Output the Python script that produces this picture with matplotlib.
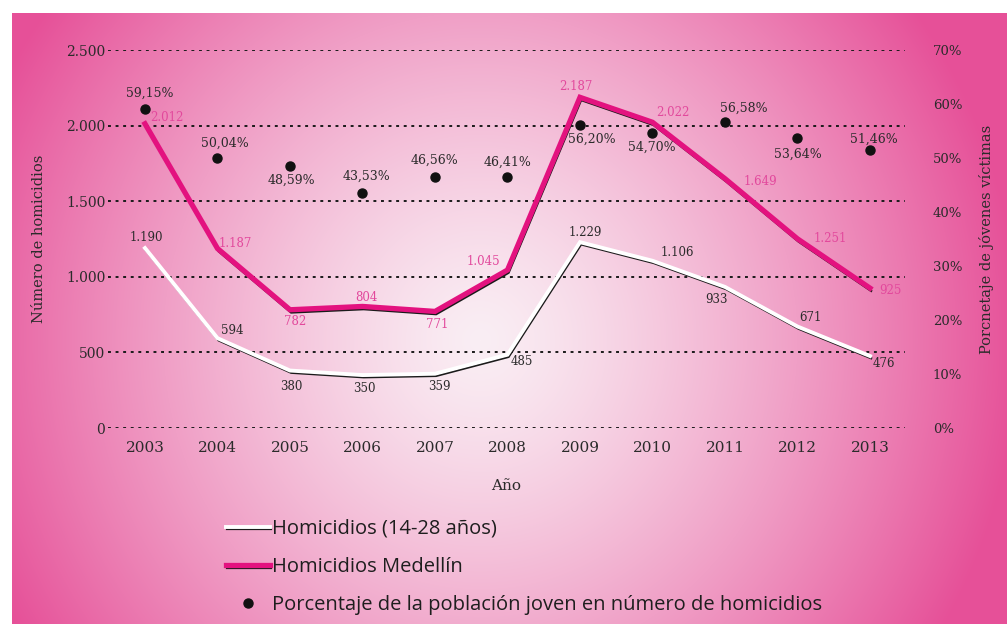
import numpy as np
import matplotlib
matplotlib.use("Agg")
import matplotlib.pyplot as plt
import matplotlib.patheffects as pe
from matplotlib.ticker import FuncFormatter

# datos
years = [2003, 2004, 2005, 2006, 2007, 2008, 2009, 2010, 2011, 2012, 2013]
medellin = [2012, 1187, 782, 804, 771, 1045, 2187, 2022, 1649, 1251, 925]
jovenes = [1190, 594, 380, 350, 359, 485, 1229, 1106, 933, 671, 476]
porcentaje = [59.15, 50.04, 48.59, 43.53, 46.56, 46.41, 56.20, 54.70, 56.58, 53.64, 51.46]
yticks_left = [0, 500, 1000, 1500, 2000, 2500]
yticks_right = [0, 10, 20, 30, 40, 50, 60, 70]

# desplazamientos de las etiquetas (pixeles)
off_med = [(22, 6), (18, 5), (5, -12), (4, 9), (2, -13), (-24, 8), (-4, 11), (20, 10), (35, -3), (33, 0), (20, -2)]
off_jov = [(1, 11), (15, 8), (1, -16), (2, -13), (4, -13), (14, -7), (5, 10), (25, 8), (-9, -13), (13, 9), (14, -7)]
off_pct = [(5, 15), (7, 15), (1, -15), (4, 17), (0, 16), (0, 15), (12, -15), (-1, -15), (19, 14), (0, -16), (4, 11)]

W, H = 1007, 624
fig = plt.figure(figsize=(W / 100, H / 100), dpi=100)

# fondo degradado
yy, xx = np.mgrid[0:H, 0:W]
r = np.sqrt(((xx - 480) / 540.0) ** 2 + ((yy - 340) / 560.0) ** 2)
t = np.clip(r, 0, 1) ** 1.3
inner = np.array([250, 238, 244]) / 255
outer = np.array([230, 80, 152]) / 255
img = inner[None, None, :] * (1 - t[..., None]) + outer[None, None, :] * t[..., None]
img[:13, :, :] = 1.0
img[:, :12, :] = 1.0
bg = fig.add_axes([0, 0, 1, 1], zorder=-1)
bg.imshow(img, aspect="auto", interpolation="bilinear")
bg.axis("off")

txt = "#2b2b2b"
mag = "#e3127f"
mag_txt = "#e2489c"
serif = "DejaVu Serif"

x0, x1 = 108, 905
ax = fig.add_axes([x0 / W, 1 - 428 / H, (x1 - x0) / W, 378 / H])
ax.patch.set_alpha(0)
ax.set_xlim(2003 - (145 - x0) / 72.5, 2013 + (x1 - 870) / 72.5)
ax.set_ylim(0, 2500)
for s in ax.spines.values():
    s.set_visible(False)

for v in yticks_left:
    ax.axhline(v, color="#1a1a1a", lw=1.4, ls=(0, (1.5, 2.4)), zorder=1)

ax.set_xticks(years)
ax.set_xticklabels([str(y) for y in years], fontsize=11, family=serif, color=txt)
ax.set_yticks(yticks_left)
ax.yaxis.set_major_formatter(FuncFormatter(lambda v, p: f"{int(v):,}".replace(",", ".")))
ax.tick_params(axis="y", length=0, pad=2, labelsize=10, labelcolor=txt)
ax.tick_params(axis="x", length=0, pad=9)
for lab in ax.get_yticklabels():
    lab.set_family(serif)
ax.set_xlabel("Año", family=serif, fontsize=11, color=txt, labelpad=18)
ax.set_ylabel("Número de homicidios", family=serif, fontsize=10.5, color=txt, labelpad=14)

l_jov, = ax.plot(years, jovenes, color="white", lw=2.8, zorder=3,
                 solid_joinstyle="miter",
                 path_effects=[pe.Stroke(offset=(0.8, -1.6), linewidth=1.6, foreground="#1a1a1a"), pe.Normal()],
                 label="Homicidios (14-28 años)")
l_med, = ax.plot(years, medellin, color=mag, lw=3.8, zorder=4,
                 solid_joinstyle="miter",
                 path_effects=[pe.Stroke(offset=(0.8, -2.0), linewidth=1.6, foreground="#1a1a1a"), pe.Normal()],
                 label="Homicidios Medellín")

for x, v, o in zip(years, medellin, off_med):
    ax.annotate(f"{v:,}".replace(",", "."), (x, v), xytext=o, textcoords="offset pixels",
                ha="center", va="center", fontsize=8.5, family=serif, color=mag_txt, zorder=6)
for x, v, o in zip(years, jovenes, off_jov):
    ax.annotate(f"{v:,}".replace(",", "."), (x, v), xytext=o, textcoords="offset pixels",
                ha="center", va="center", fontsize=8.5, family=serif, color=txt, zorder=6)

ax2 = ax.twinx()
ax2.set_ylim(0, 70)
ax2.patch.set_alpha(0)
for s in ax2.spines.values():
    s.set_visible(False)
ax2.set_yticks(yticks_right)
ax2.set_yticklabels([f"{v}%" for v in yticks_right], family=serif, fontsize=9.5, color=txt)
ax2.tick_params(axis="y", length=0, pad=20)
ax2.set_ylabel("Porcnetaje de jóvenes víctimas", family=serif, fontsize=10.5, color=txt,
               labelpad=12)

dots, = ax2.plot(years, porcentaje, "o", color="#111111", ms=6.5, ls="none", zorder=5,
                 label="Porcentaje de la población joven en número de homicidios")
for x, v, o in zip(years, porcentaje, off_pct):
    ax2.annotate(f"{v:.2f}%".replace(".", ","), (x, v), xytext=o, textcoords="offset pixels",
                 ha="center", va="center", fontsize=9, family=serif, color=txt, zorder=6)

leg = fig.legend([l_jov, l_med, dots],
                 [l_jov.get_label(), l_med.get_label(), dots.get_label()],
                 loc="center left", bbox_to_anchor=(226 / W, 1 - 567 / H),
                 frameon=False, handlelength=2.2, handletextpad=0.1,
                 labelspacing=0.9, borderpad=0, borderaxespad=0,
                 prop={"family": "Open Sans", "size": 14.5})
for t_ in leg.get_texts():
    t_.set_color("#1e1e1e")

fig.savefig("out.png", dpi=100)
